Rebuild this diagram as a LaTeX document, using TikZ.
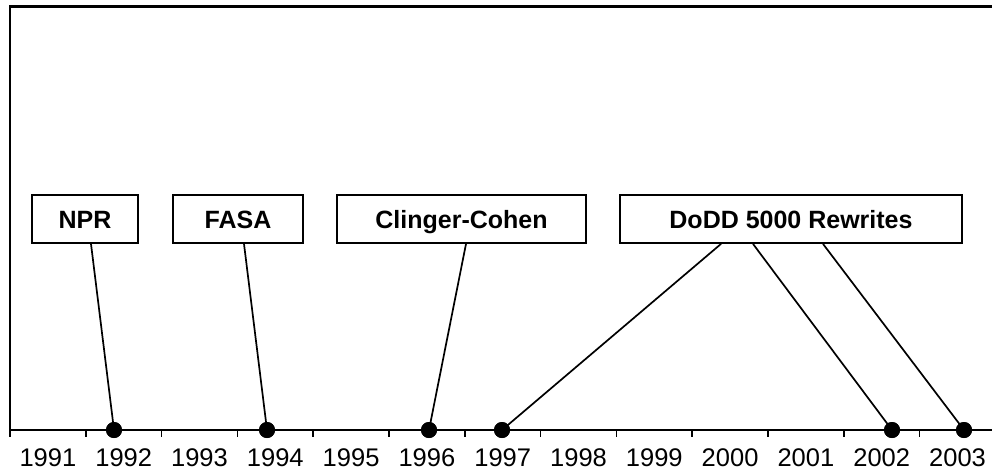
\documentclass[tikz,border=0pt]{standalone}
\usepackage{fontspec}
\setmainfont{Liberation Sans}
\begin{document}
\begin{tikzpicture}[x=1pt,y=-1pt,
  frame/.style={line width=2.4pt},
  evbox/.style={draw,line width=1.8pt,fill=white,minimum height=48pt,inner sep=0pt,
     text height=18pt,text depth=0pt,
     font=\fontsize{25}{30}\selectfont\bfseries},
  yearlbl/.style={font=\fontsize{25.5}{30}\selectfont,inner sep=0pt,text height=18pt,text depth=0pt},
  dot/.style={circle,fill=black,minimum size=16pt,inner sep=0pt},
  conn/.style={line width=1.7pt}]
\useasboundingbox (0,0) rectangle (992,472);
% frame
\coordinate (tl) at (10,6.5);
\coordinate (tr) at (992,6.5);
\coordinate (axl) at (10,430);
\coordinate (axr) at (992,430);
\draw[frame] (tr) -- (tl) -- (axl) -- (axr);
% ticks and years
\foreach \k [evaluate=\k as \xx using 10+75.8*\k] in {0,...,12} {
  \draw[line width=1.6pt] (\xx,430) -- (\xx,437);
}
\foreach \yr [count=\k from 0, evaluate=\k as \xc using 10+75.8*(\k+0.5)] in {1991,...,2003} {
  \node[yearlbl] (y\yr) at (\xc,457) {\yr};
}
% boxes
\node[evbox,minimum width=106pt] (npr) at (85,219) {NPR};
\node[evbox,minimum width=130pt] (fasa) at (238,219) {FASA};
\node[evbox,minimum width=249pt] (cc) at (461.5,219) {Clinger-Cohen};
\node[evbox,minimum width=342pt] (dodd) at (791,219) {DoDD 5000 Rewrites};
% dots
\node[dot] (d92) at (114,430) {};
\node[dot] (d94) at (267,430) {};
\node[dot] (d96) at (429,430) {};
\node[dot] (d97) at (502,430) {};
\node[dot] (d02) at (892,430) {};
\node[dot] (d03) at (964,430) {};
% connectors
\draw[conn] ([xshift=6pt]npr.south) -- (d92.center);
\draw[conn] ([xshift=6pt]fasa.south) -- (d94.center);
\draw[conn] ([xshift=4.5pt]cc.south) -- (d96.center);
\draw[conn] ([xshift=-70pt]dodd.south) -- (d97.center);
\draw[conn] ([xshift=-38pt]dodd.south) -- (d02.center);
\draw[conn] ([xshift=32pt]dodd.south) -- (d03.center);
\foreach \n in {d92,d94,d96,d97,d02,d03} \node[dot] at (\n) {};
\end{tikzpicture}
\end{document}
